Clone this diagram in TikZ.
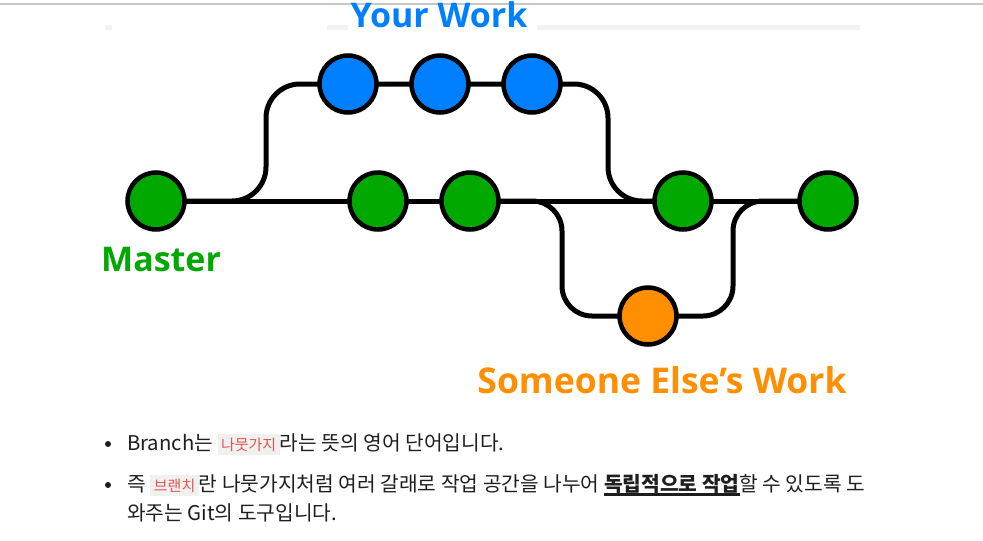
\documentclass[tikz,border=0pt]{standalone}
\usepackage{fontspec}
\setmainfont{Liberation Sans}
\newfontfamily\krfont{Noto Sans CJK KR}
\newfontfamily\headfont{Open Sans}
\usepackage{tikz}
\usetikzlibrary{positioning,backgrounds}
\definecolor{gitgreen}{RGB}{0,168,0}
\definecolor{gitblue}{RGB}{0,128,255}
\definecolor{gitorange}{RGB}{255,142,0}
\definecolor{pillbg}{RGB}{240,240,238}
\definecolor{pillred}{RGB}{225,85,85}
\definecolor{bodyink}{RGB}{30,30,30}
\newcommand{\pill}[1]{{\setlength{\fboxsep}{3.5pt}\colorbox{pillbg}{\fontsize{15}{17}\selectfont\color{pillred}#1}}}
\newcommand{\thickul}[1]{\setbox0\hbox{#1}\rlap{\rule[-4.5pt]{\wd0}{2.4pt}}\box0}

\begin{document}
\begin{tikzpicture}[x=1pt,y=-1pt,
  commit/.style={circle,draw=black,line width=4.5pt,minimum size=57pt,inner sep=0pt},
  branch/.style={line width=5pt,rounded corners=34pt},
  head/.style={font=\headfont\bfseries\fontsize{34}{36}\selectfont,inner sep=0pt},
  body/.style={font=\krfont\fontsize{20.3}{24}\selectfont,text=bodyink,inner sep=0pt}]
\useasboundingbox (0,0) rectangle (983,541);
% page frame
\draw[gray!45,line width=1.2pt] (0,4) -- (983,4);
\fill[gray!10] (105,25) rectangle (112,30) (327,25) rectangle (348,30) (537,25) rectangle (860,30);
% commits
\node[commit,fill=gitgreen] (m1) at (156,201) {};
\node[commit,fill=gitgreen] (m2) at (378,201) {};
\node[commit,fill=gitgreen] (m3) at (470,201) {};
\node[commit,fill=gitgreen] (m4) at (683,201) {};
\node[commit,fill=gitgreen] (m5) at (828,201) {};
\node[commit,fill=gitblue] (b1) at (348,84) {};
\node[commit,fill=gitblue] (b2) at (440,84) {};
\node[commit,fill=gitblue] (b3) at (532,84) {};
\node[commit,fill=gitorange] (o1) at (648,316) {};
\coordinate (fork1) at (266,201);
\coordinate (join1) at (608,201);
\coordinate (fork2) at (562,201);
\coordinate (join2) at (733,201);
% lines
\begin{scope}[on background layer]
\fill[white] (0,0) rectangle (983,541);
\draw[branch] (m1.center) -- (m5.center);
\draw[branch] (m1.center) -- (fork1) |- (b1.center) -- (b3.center);
\draw[branch] (b3.center) -| (join1) -- (m4.center);
\draw[branch,rounded corners=30pt] (m3.center) -- (fork2) |- (o1.center);
\draw[branch,rounded corners=30pt] (o1.center) -| (join2) -- (m5.center);
\end{scope}
% labels
\node[head,text=gitblue,anchor=base] (yourwork) at (439,27) {Your Work};
\node[head,text=gitgreen,anchor=base west] (master) at (101,271) {Master};
\node[head,text=gitorange,anchor=base,font=\headfont\bfseries\fontsize{35.5}{37}\selectfont] (others) at (662,393) {Someone Else’s Work};
% text below
\node[circle,fill=bodyink,inner sep=0pt,minimum size=6pt] (dot1) at (108,444) {};
\node[circle,fill=bodyink,inner sep=0pt,minimum size=6pt] (dot2) at (108,485) {};
\node[body,anchor=base west] (line1) at (127,450) {Branch는 \pill{나뭇가지}라는 뜻의 영어 단어입니다.};
\node[body,anchor=base west] (line2) at (127,491) {즉 \pill{브랜치}란 나뭇가지처럼 여러 갈래로 작업 공간을 나누어 \thickul{\bfseries 독립적으로 작업}할 수 있도록 도};
\node[body,anchor=base west] (line3) at ([yshift=-29pt]line2.base west) {와주는 Git의 도구입니다.};
\end{tikzpicture}
\end{document}
